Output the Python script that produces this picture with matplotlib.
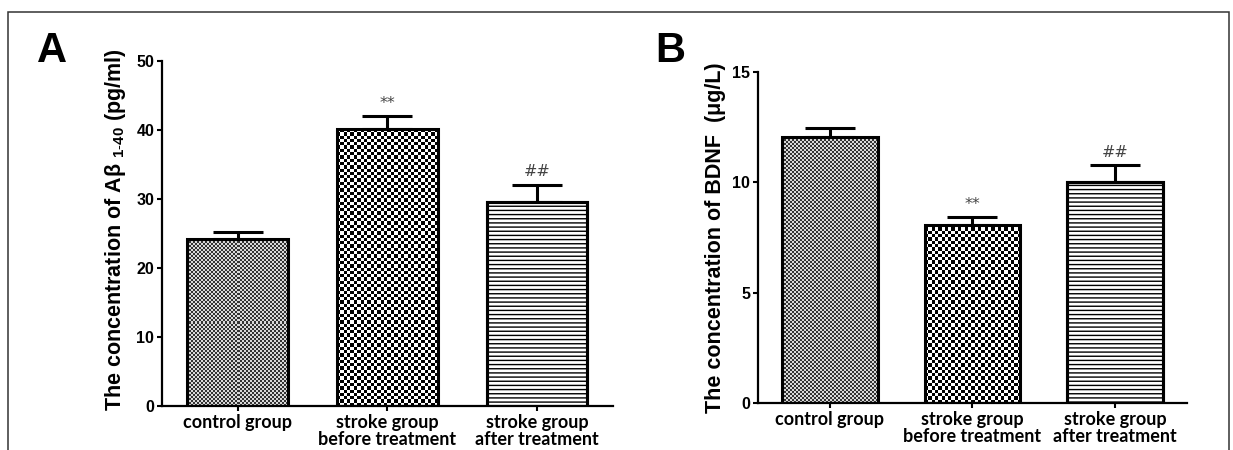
import numpy as np
import matplotlib.pyplot as plt
from matplotlib.patches import Rectangle

plt.rcParams['mathtext.fontset'] = 'custom'
plt.rcParams['mathtext.rm'] = 'Liberation Sans'
plt.rcParams['hatch.linewidth'] = 1.0

# data
groups = ['control group', 'stroke group\nbefore treatment', 'stroke group\nafter treatment']
abeta_mean = [24.2, 40.1, 29.6]
abeta_err = [1.0, 1.9, 2.5]
abeta_marks = ['', '**', '##']
bdnf_mean = [12.05, 8.07, 10.0]
bdnf_err = [0.42, 0.35, 0.78]
bdnf_marks = ['', '**', '##']
abeta_ticks = [0, 10, 20, 30, 40, 50]
bdnf_ticks = [0, 5, 10, 15]

W, H = 1233, 450
fig = plt.figure(figsize=(W / 100, H / 100), dpi=100)

tick_font = ['Liberation Sans Narrow', 'Liberation Sans', 'DejaVu Sans']
label_font = ['Lato', 'DejaVu Sans']


def fill_checker(ax, bar, cell, dark, light):
    # checkerboard texture clipped to the bar
    x0, y0 = bar.get_x(), bar.get_y()
    w, h = bar.get_width(), bar.get_height()
    p0 = ax.transData.transform((x0, y0))
    p1 = ax.transData.transform((x0 + w, y0 + h))
    nx = max(int(round(abs(p1[0] - p0[0]) / cell)), 1)
    ny = max(int(round(abs(p1[1] - p0[1]) / cell)), 1)
    grid = np.add.outer(np.arange(ny), np.arange(nx)) % 2
    im = ax.imshow(grid * (light - dark) + dark, cmap='gray', vmin=0, vmax=1,
                   extent=(x0, x0 + w, y0, y0 + h), origin='lower',
                   interpolation='nearest', aspect='auto', zorder=2)
    im.set_clip_path(bar)


def panel(rect, means, errs, marks, ticks, ylabel, label_xy):
    ax = fig.add_axes(rect)
    x = np.arange(len(groups))
    ax.set_xlim(-0.504, 2.506)
    ax.set_ylim(ticks[0], ticks[-1])
    bars = ax.bar(x, means, width=0.67, facecolor='none', edgecolor='black',
                  linewidth=2.2, zorder=3)
    bars[2].set_hatch('----')
    bars[2].set_facecolor('white')
    bars[2].set_zorder(2)
    ax.bar(x[2:], means[2:], width=0.67, facecolor='none', edgecolor='black',
           linewidth=2.2, zorder=3)
    fill_checker(ax, bars[0], 2.0, 0.2, 0.85)
    fill_checker(ax, bars[1], 3.3, 0.0, 1.0)
    ax.errorbar(x, means, yerr=[np.zeros(len(x)), errs], fmt='none', ecolor='black',
                elinewidth=2.2, capsize=18, capthick=2.2, zorder=1)
    for xi, m, e, t in zip(x, means, errs, marks):
        if t:
            ax.annotate(t, (xi, m + e), xytext=(0, 4), textcoords='offset points',
                        ha='center', va='bottom', fontsize=11.5, color='#444444')
    ax.set_xlim(-0.504, 2.506)
    ax.set_ylim(ticks[0], ticks[-1])
    ax.set_yticks(ticks)
    ax.set_yticklabels([str(t) for t in ticks], family=tick_font, weight='bold', fontsize=11.5)
    ax.set_xticks(x)
    ax.set_xticklabels(groups, family=label_font, weight='bold', fontsize=13, linespacing=1.05)
    ax.tick_params(axis='both', direction='out', length=3.5, width=1.5, pad=2)
    for s in ['top', 'right']:
        ax.spines[s].set_visible(False)
    for s in ['left', 'bottom']:
        ax.spines[s].set_linewidth(1.6)
    ax.set_ylabel(ylabel, family=['Liberation Sans', 'DejaVu Sans'], weight='bold',
                  fontsize=15.5, va='center')
    ax.yaxis.set_label_coords(*label_xy)
    return ax


axA = panel([162 / W, (H - 406) / H, 451 / W, 345 / H], abeta_mean, abeta_err, abeta_marks,
            abeta_ticks, 'The concentration of A\u03b2 $_{\\mathregular{1\\text{-}40}}$ (pg/ml)',
            (-0.102, 0.51))
axB = panel([758 / W, (H - 403) / H, 429 / W, 331 / H], bdnf_mean, bdnf_err, bdnf_marks,
            bdnf_ticks, 'The concentration of BDNF  (\u03bcg/L)', (-0.098, 0.50))

fig.text(37 / W, (H - 62) / H, 'A', fontsize=30, weight='bold', family='Liberation Sans',
         va='baseline', ha='left')
fig.text(655 / W, (H - 62) / H, 'B', fontsize=30, weight='bold', family='Liberation Sans',
         va='baseline', ha='left')

fig.add_artist(Rectangle((8 / W, -0.1), (1229 - 8) / W, (H - 12) / H + 0.1,
                         transform=fig.transFigure, fill=False, linewidth=1.1,
                         edgecolor='#333333'))

fig.savefig('out.png', dpi=100)
